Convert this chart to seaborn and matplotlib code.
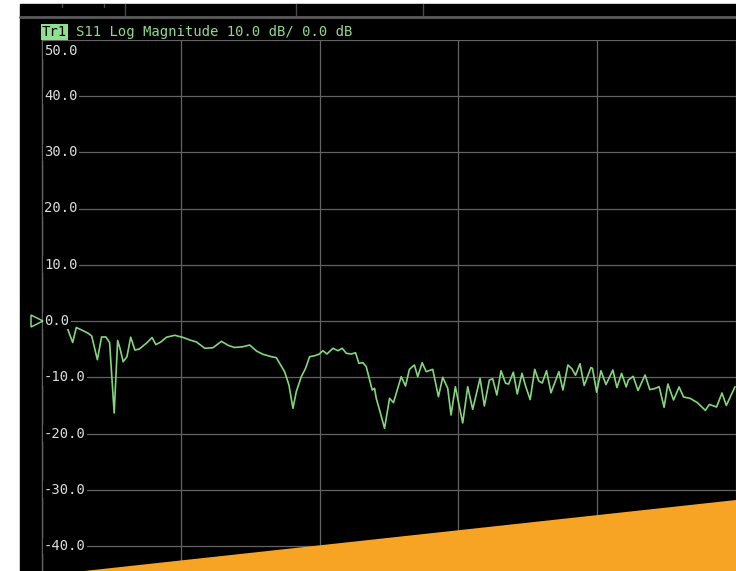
import seaborn as sns
import matplotlib.pyplot as plt
from matplotlib.lines import Line2D
from matplotlib.patches import Rectangle, Polygon

# S11 trace
# x in graticule divisions (from left edge), y in dB
div = [0.183, 0.221, 0.247, 0.286, 0.333, 0.358, 0.399, 0.429, 0.460, 0.487,
       0.520, 0.545, 0.561, 0.585, 0.612, 0.639, 0.669, 0.701, 0.755, 0.793,
       0.820, 0.856, 0.897, 0.957, 1.017, 1.065, 1.113, 1.173, 1.232, 1.293,
       1.340, 1.388, 1.448, 1.496, 1.545, 1.592, 1.653, 1.688, 1.712, 1.748,
       1.779, 1.808, 1.832, 1.868, 1.899, 1.928, 1.964, 1.995, 2.024, 2.053,
       2.096, 2.132, 2.163, 2.192, 2.228, 2.259, 2.283, 2.312, 2.336, 2.379,
       2.396, 2.408, 2.432, 2.468, 2.504, 2.532, 2.588, 2.619, 2.647, 2.683,
       2.707, 2.739, 2.768, 2.815, 2.856, 2.887, 2.923, 2.947, 2.978, 3.031,
       3.067, 3.103, 3.156, 3.187, 3.223, 3.247, 3.277, 3.307, 3.340, 3.362,
       3.396, 3.424, 3.458, 3.484, 3.517, 3.550, 3.579, 3.604, 3.635, 3.667,
       3.724, 3.753, 3.789, 3.818, 3.844, 3.876, 3.906, 3.955, 3.966, 3.996,
       4.027, 4.063, 4.113, 4.142, 4.176, 4.209, 4.225, 4.259, 4.294, 4.345,
       4.379, 4.414, 4.446, 4.482, 4.509, 4.550, 4.590, 4.622, 4.668, 4.722,
       4.779, 4.808, 4.860, 4.899, 4.930, 4.993]
s11_db = [-1.30, -3.82, -1.16, -1.60, -2.19, -2.67, -6.88, -2.84, -2.84, -3.82,
          -16.36, -3.47, -4.80, -7.24, -6.35, -2.88, -5.16, -4.98, -3.88, -2.93,
          -4.20, -3.73, -2.88, -2.54, -2.93, -3.38, -3.73, -4.85, -4.75, -3.61,
          -4.32, -4.71, -4.57, -4.27, -5.33, -5.92, -6.35, -6.52, -7.52, -9.01,
          -11.38, -15.52, -12.57, -9.90, -8.41, -6.35, -6.17, -5.92, -5.28, -5.87,
          -4.85, -5.28, -4.85, -5.74, -5.87, -5.64, -7.52, -7.41, -8.12, -12.27,
          -11.96, -13.74, -15.82, -19.08, -13.74, -14.52, -9.90, -11.56, -8.59, -7.82,
          -9.90, -7.41, -9.01, -8.59, -13.46, -10.01, -11.96, -16.71, -11.68, -18.13,
          -11.68, -15.70, -10.19, -15.11, -10.49, -10.28, -13.16, -8.84, -11.08, -11.20,
          -9.10, -12.98, -9.30, -11.56, -13.97, -8.59, -10.67, -11.02, -8.84, -12.76,
          -9.01, -12.27, -7.82, -8.50, -9.65, -7.59, -11.47, -8.27, -8.41, -12.66,
          -8.84, -11.31, -8.71, -11.84, -9.30, -11.73, -10.49, -9.83, -12.36, -9.60,
          -12.20, -12.02, -11.68, -15.34, -11.20, -14.04, -11.73, -13.51, -13.74, -14.52,
          -15.89, -14.84, -15.29, -12.80, -15.02, -11.68]

y_ticks = [50, 40, 30, 20, 10, 0, -10, -20, -30, -40, -50]
x_divs = [0, 1, 2, 3, 4, 5]
ref_level = 0.0
scale_db = 10.0
trace_name = "Tr1"
param = "S11"

green = "#84d67c"
grid_gray = "#626262"

sns.set_style("dark", {"axes.facecolor": "black"})
plt.rcParams["font.family"] = ["DejaVu Sans Mono", "DejaVu Sans"]

W, H = 736, 571
fig = plt.figure(figsize=(W / 100, H / 100), dpi=100, facecolor="white")


def fx(px):
    return px / W


def fy(py):
    return 1 - py / H


# black screen area
fig.add_artist(Rectangle((fx(20), 0), 1 - fx(20), fy(4), color="black",
                         transform=fig.transFigure, zorder=0))

# top strip: separator + little tick lines of the softkey bar
fig.add_artist(Line2D([fx(20), 1], [fy(17), fy(17)], color="#5a5a5a", lw=2,
                      transform=fig.transFigure, zorder=1))
for px, y0 in [(125, 15), (296, 15), (423, 15), (62, 7), (104, 7)]:
    fig.add_artist(Line2D([fx(px), fx(px)], [fy(4), fy(y0)], color="#4a4a4a", lw=1,
                          transform=fig.transFigure, zorder=1))

# graticule: 10 dB per division, only part of the screen is visible
ax = fig.add_axes([fx(42), fy(602.25), (W - 42) / W, (602.25 - 39.75) / H])
ax.set_facecolor("black")

sns.lineplot(x=div, y=s11_db, ax=ax, color=green, lw=1.2)

ax.set_xlim(x_divs[0], x_divs[-1])
ax.set_ylim(min(y_ticks), max(y_ticks))
ax.set_xticks(x_divs)
ax.set_yticks(y_ticks)
ax.grid(True, color=grid_gray, lw=0.9)
ax.tick_params(length=0, labelleft=False, labelbottom=False)
ax.set_xlabel("")
ax.set_ylabel("")
for side in ["top", "right", "bottom"]:
    ax.spines[side].set_visible(False)
ax.spines["left"].set_color(grid_gray)
ax.spines["left"].set_linewidth(1.0)

# scale labels drawn inside the graticule like the instrument does
# (the bottom one falls below the visible part of the screen)
for v in y_ticks[:-1]:
    va = "top" if v == max(y_ticks) else "center"
    yv = v - 0.7 if v == max(y_ticks) else v
    ax.text(0.003, yv, f"{v:.1f}", transform=ax.get_yaxis_transform(),
            ha="left", va=va, fontsize=10, color="#dcdcdc",
            bbox=dict(facecolor="black", edgecolor="none", pad=1.0), zorder=3)

# reference level marker
ax.plot([-5 / 139], [ref_level], marker=">", ms=9, mfc="none", mec=green, mew=1.1,
        clip_on=False, zorder=4)

# header line
fig.text(fx(42), fy(32), trace_name, ha="left", va="center", fontsize=10,
         color="black", bbox=dict(facecolor="#8fe08f", edgecolor="none", pad=0.6))
fig.text(fx(76), fy(32), f"{param} Log Magnitude {scale_db:.1f} dB/ {ref_level:.1f} dB",
         ha="left", va="center", fontsize=10, color="#8fd98a")

# orange banner across the bottom right corner
fig.add_artist(Polygon([(fx(84), 0), (1, fy(500)), (1, 0)], closed=True,
                       facecolor="#f7a324", edgecolor="none",
                       transform=fig.transFigure, zorder=5))

fig.savefig("out.png", dpi=100, facecolor="white")
